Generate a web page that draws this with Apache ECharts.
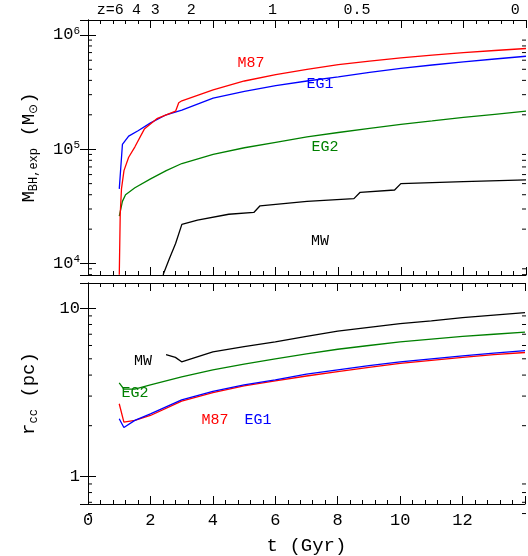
<!DOCTYPE html><html><head><meta charset="utf-8">
<script src="https://cdn.jsdelivr.net/npm/echarts@6/dist/echarts.min.js"></script>
<style>html,body{margin:0;background:#fff}#c{width:528px;height:556px}</style></head><body><div id="c"></div>
<script>
const tM87=[1.0,1.03,1.07,1.15,1.3,1.5,1.8,2.2,2.5,2.8,2.9,3.0,4,5,6,7,8,9,10,11,12,13,14];
const mM87=[8e3,2.7e4,4.5e4,6.5e4,8.5e4,1.05e5,1.5e5,1.85e5,2.0e5,2.15e5,2.55e5,2.65e5,3.3e5,3.95e5,4.5e5,5.0e5,5.5e5,5.9e5,6.3e5,6.65e5,7.0e5,7.3e5,7.6e5];
const tEG1=[1.0,1.1,1.3,1.6,2.0,2.5,3.0,4,5,6,7,8,9,10,11,12,13,14];
const mEG1=[4.5e4,1.1e5,1.3e5,1.45e5,1.7e5,2.0e5,2.2e5,2.8e5,3.2e5,3.6e5,3.95e5,4.3e5,4.7e5,5.1e5,5.45e5,5.8e5,6.15e5,6.5e5];
const tEG2=[1.0,1.1,1.2,1.5,2.0,2.5,3.0,4,5,6,7,8,9,10,11,12,13,14];
const mEG2=[2.6e4,3.5e4,4.0e4,4.6e4,5.5e4,6.5e4,7.5e4,9.0e4,1.03e5,1.15e5,1.28e5,1.4e5,1.52e5,1.65e5,1.77e5,1.9e5,2.02e5,2.15e5];
const tMW=[2.4,2.6,2.8,3.0,3.5,4.5,5.3,5.5,7.0,8.5,8.7,9.8,10.0,12,14];
const mMW=[8e3,1.1e4,1.5e4,2.2e4,2.4e4,2.7e4,2.8e4,3.2e4,3.5e4,3.7e4,4.2e4,4.4e4,5.0e4,5.2e4,5.4e4];
const rT=[1.0,1.15,1.5,2,3,4,5,6,7,8,9,10,11,12,13,14];
const rM87=[2.7,2.1,2.15,2.3,2.8,3.15,3.45,3.7,3.95,4.2,4.45,4.7,4.9,5.1,5.3,5.45];
const rEG1=[2.2,1.95,2.15,2.35,2.85,3.2,3.5,3.75,4.05,4.3,4.55,4.8,5.0,5.2,5.4,5.6];
const rEG2=[3.6,3.3,3.3,3.5,3.9,4.3,4.65,5.0,5.35,5.7,6.0,6.3,6.55,6.8,7.0,7.2];
const tMWr=[2.5,2.8,3.0,4,5,6,7,8,9,10,11,12,13,14];
const rMW=[5.3,5.1,4.8,5.5,5.9,6.3,6.8,7.3,7.7,8.1,8.4,8.8,9.1,9.4];
const zLabels=['z=6','4','3','2','1','0.5','0'];
const zT=[0.95,1.55,2.15,3.3,5.9,8.6,13.8];
const F='Liberation Mono';
const ch=echarts.init(document.getElementById('c'));
const pr=(a,b)=>a.map((x,i)=>[x,b[i]]);
const sup={fontFamily:F,fontSize:11,verticalAlign:'top',padding:[0,0,8,0],color:'#000'};
const logLab=v=>{const e=Math.round(Math.log10(v));return e===0?'1':(e===1?'10':'{a|10}{s|'+e+'}');};
const ax={axisLine:{lineStyle:{color:'#000'}},axisTick:{inside:true,length:8,lineStyle:{color:'#000'}},minorTick:{show:true,splitNumber:5,length:4,lineStyle:{color:'#000'}},splitLine:{show:false}};
const xa=(gi,show)=>Object.assign({type:'value',gridIndex:gi,min:0,max:14,interval:2,axisLabel:{show:show,color:'#000',fontFamily:F,fontSize:17,formatter:v=>v>13?'':v},name:show?'t (Gyr)':'',nameLocation:'middle',nameGap:32,nameTextStyle:{fontFamily:F,fontSize:19,color:'#000'}},ax);
const ya=(gi,min,max,name)=>({type:'log',gridIndex:gi,min:min,max:max,logBase:10,axisLine:{lineStyle:{color:'#000'}},axisTick:{inside:true,length:8,lineStyle:{color:'#000'}},minorTick:{show:false},splitLine:{show:false},
 axisLabel:{color:'#000',fontFamily:F,fontSize:17,formatter:v=>{const e=Math.log10(v);return Math.abs(e-Math.round(e))<1e-6?logLab(v):'';},rich:{a:{fontFamily:F,fontSize:17,color:'#000'},s:sup}},
 name:name,nameLocation:'middle',nameGap:48,nameRotate:90,nameTextStyle:{fontFamily:F,fontSize:19,color:'#000',rich:{b:{fontFamily:F,fontSize:12,color:'#000',verticalAlign:'bottom',padding:[10,0,0,0]},n:{fontFamily:F,fontSize:19,color:'#000'}}}});
const ln=(d,c,xi)=>({type:'line',xAxisIndex:xi,yAxisIndex:xi,data:d,showSymbol:false,symbol:'none',lineStyle:{color:c,width:1.3},clip:true});
ch.setOption({animation:false,
grid:[{left:88,top:20,width:438,height:255},{left:88,top:283,width:438,height:239}],
xAxis:[xa(0,false),xa(1,true),Object.assign(xa(0,false),{position:'top',axisLabel:{show:false}}),Object.assign(xa(1,false),{position:'top'})],
yAxis:[ya(0,10**3.9,10**6.13,'{n|M}{b|BH,exp}{n| (M}{b|⊙}{n|)}'),ya(1,10**-0.165,10**1.15,'{n|r}{b|cc}{n| (pc)}'),
 Object.assign(ya(0,10**3.9,10**6.13,''),{position:'right',axisLabel:{show:false}}),Object.assign(ya(1,10**-0.165,10**1.15,''),{position:'right',axisLabel:{show:false}})],
series:[ln(pr(tEG2,mEG2),'#008000',0),ln(pr(tMW,mMW),'#000',0),ln(pr(tEG1,mEG1),'#0000ff',0),ln(pr(tM87,mM87),'#ff0000',0),
 ln(pr(tMWr,rMW),'#000',1),ln(pr(rT,rEG2),'#008000',1),ln(pr(rT,rM87),'#ff0000',1),ln(pr(rT,rEG1),'#0000ff',1)]});
const g=[];
const txt=(x,y,s,c,al)=>g.push({type:'text',x:x,y:y,style:{text:s,fill:c,font:'15px "'+F+'"',textAlign:al||'center',textVerticalAlign:'middle'}});
const P=(gi,t,v)=>ch.convertToPixel({gridIndex:gi},[t,v]);
// log minor ticks
const minor=(gi,lo,hi,top,bot)=>{for(let e=lo;e<hi;e++)for(let k=2;k<=9;k++){const v=k*10**e;const p=P(gi,0,v);if(p[1]<top||p[1]>bot)continue;
 g.push({type:'line',shape:{x1:88,y1:p[1],x2:92,y2:p[1]},style:{stroke:'#000',lineWidth:1}});
 g.push({type:'line',shape:{x1:526,y1:p[1],x2:522,y2:p[1]},style:{stroke:'#000',lineWidth:1}});}};
minor(0,3,7,20,275);minor(1,-1,2,283,522);
zLabels.forEach((z,i)=>{const p=P(0,zT[i],1e5);if(i===0)txt(p[0]+6,10,z,'#000','right');else txt(p[0],10,z,'#000',i===6?'right':'center');});
txt(251,63,'M87','#ff0000');txt(320,84,'EG1','#0000ff');txt(325,147,'EG2','#008000');txt(320,241,'MW','#000');
txt(143,361,'MW','#000');txt(135,393,'EG2','#008000');txt(215,420,'M87','#ff0000');txt(258,420,'EG1','#0000ff');
ch.setOption({graphic:g});
</script></body></html>
